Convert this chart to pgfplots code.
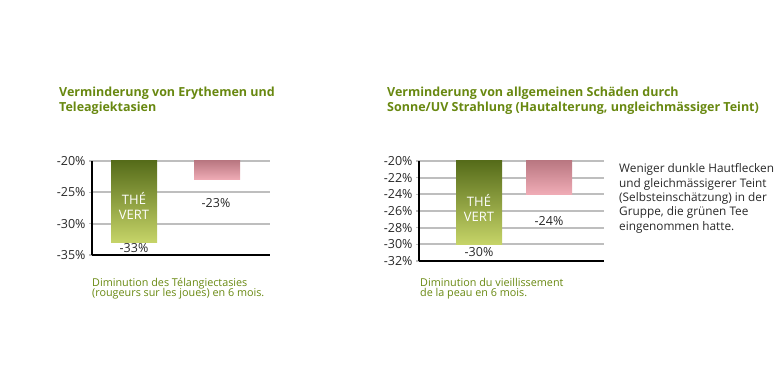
\documentclass[border=0pt]{standalone}
\usepackage{fontspec}
\setmainfont{Open Sans}
\usepackage{pgfplots}
\pgfplotsset{compat=1.18}
\definecolor{titlegreen}{RGB}{104,136,16}
\definecolor{gtop}{RGB}{86,108,26}
\definecolor{gbot}{RGB}{198,212,104}
\definecolor{ptop}{RGB}{186,120,130}
\definecolor{pbot}{RGB}{240,172,182}
\definecolor{gridgray}{RGB}{190,190,190}
\definecolor{bodytext}{RGB}{40,40,40}
\begin{document}
\begin{tikzpicture}[x=1pt,y=1pt]
\path[use as bounding box] (0,0) rectangle (774,377);
\tikzset{txt/.style={anchor=base west, inner sep=0pt}}
\pgfplotsset{
  barax/.style={
    scale only axis,
    anchor=south west,
    axis x line*=bottom, axis y line*=left,
    axis line style={black, line width=2.2pt},
    xtick=\empty,
    ymajorgrids, grid style={gridgray, line width=1.8pt},
    major tick length=3pt, tick style={gridgray, line width=1.5pt},
    tick align=outside,
    yticklabel style={font=\fontsize{12.5}{13}\selectfont, text=bodytext},
    clip=false,
  }
}
% ---------- left chart ----------
\node[txt, text=titlegreen, font=\fontsize{12.5}{15}\selectfont\bfseries] at (59,377-97) {Verminderung von Erythemen und};
\node[txt, text=titlegreen, font=\fontsize{12.5}{15}\selectfont\bfseries] at (59,377-112) {Teleagiektasien};
\begin{axis}[barax, at={(92pt,122pt)}, width=178pt, height=94pt,
  xmin=92, xmax=270, ymin=-35, ymax=-20,
  ytick={-35,-30,-25,-20}, yticklabels={-35\%,-30\%,-25\%,-20\%}]
\addplot[draw=none, top color=gtop, bottom color=gbot] coordinates {(111,-20) (157,-20) (157,-33) (111,-33)} -- cycle;
\addplot[draw=none, top color=ptop, bottom color=pbot] coordinates {(194,-20) (240,-20) (240,-23) (194,-23)} -- cycle;
\node[text=white, font=\fontsize{13}{15}\selectfont, align=center] at (axis cs:134,-27.1) {THÉ\\VERT};
\node[anchor=north, font=\fontsize{12.5}{13}\selectfont, text=bodytext, inner sep=1pt] at (axis cs:134,-33) {-33\%};
\node[anchor=base, font=\fontsize{12.5}{13}\selectfont, text=bodytext] at (axis cs:216,-27.5) {-23\%};
\end{axis}
\node[txt, text=titlegreen, font=\fontsize{10.8}{11}\selectfont] at (92,377-287) {Diminution des Télangiectasies};
\node[txt, text=titlegreen, font=\fontsize{10.8}{11}\selectfont] at (92,377-297) {(rougeurs sur les joues) en 6 mois.};
% ---------- right chart ----------
\node[txt, text=titlegreen, font=\fontsize{12.5}{15}\selectfont\bfseries] at (387,377-97) {Verminderung von allgemeinen Schäden durch};
\node[txt, text=titlegreen, font=\fontsize{12.5}{15}\selectfont\bfseries] at (387,377-112) {Sonne/UV Strahlung (Hautalterung, ungleichmässiger Teint)};
\begin{axis}[barax, at={(419pt,116pt)}, width=185pt, height=100pt,
  xmin=419, xmax=604, ymin=-32, ymax=-20,
  ytick={-32,-30,-28,-26,-24,-22,-20},
  yticklabels={-32\%,-30\%,-28\%,-26\%,-24\%,-22\%,-20\%}]
\addplot[draw=none, top color=gtop, bottom color=gbot] coordinates {(456,-20) (502,-20) (502,-30) (456,-30)} -- cycle;
\addplot[draw=none, top color=ptop, bottom color=pbot] coordinates {(526,-20) (572,-20) (572,-24) (526,-24)} -- cycle;
\node[text=white, font=\fontsize{13}{15}\selectfont, align=center] at (axis cs:479,-25.6) {THÉ\\VERT};
\node[anchor=north, font=\fontsize{12.5}{13}\selectfont, text=bodytext, inner sep=1pt] at (axis cs:479,-30.2) {-30\%};
\node[anchor=base, font=\fontsize{12.5}{13}\selectfont, text=bodytext] at (axis cs:549,-27.7) {-24\%};
\end{axis}
\node[txt, text=titlegreen, font=\fontsize{10.8}{11}\selectfont] at (420,377-287) {Diminution du vieillissement};
\node[txt, text=titlegreen, font=\fontsize{10.8}{11}\selectfont] at (420,377-297) {de la peau en 6 mois.};
\foreach \t [count=\i] in {Weniger dunkle Hautflecken, und gleichmässigerer Teint, (Selbsteinschätzung) in der, {Gruppe, die grünen Tee}, eingenommen hatte.}{
  \node[txt, text=bodytext, font=\fontsize{11.8}{14}\selectfont] at (619,377-173-14.3*\i+14.3) {\t};
}
\end{tikzpicture}
\end{document}
